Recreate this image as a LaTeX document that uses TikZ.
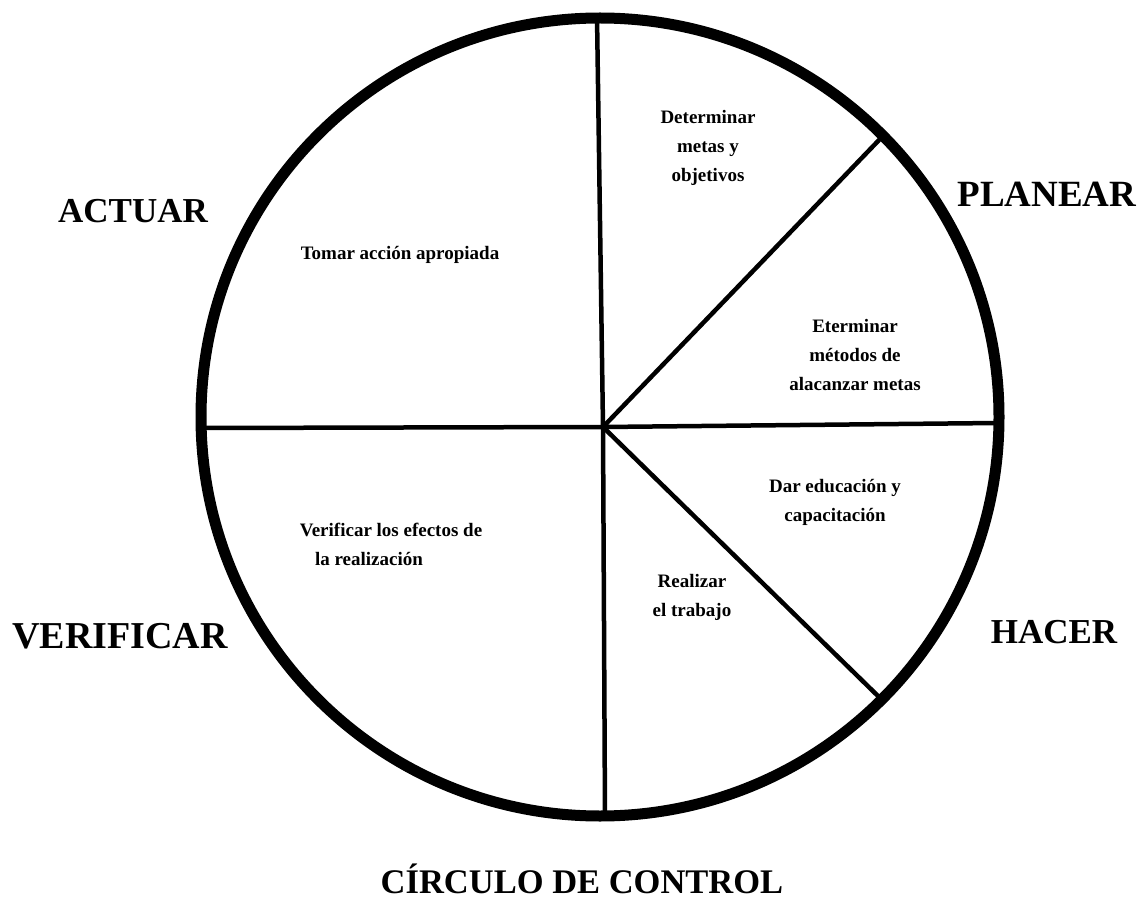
\documentclass[tikz,border=0pt]{standalone}
\usepackage{fontspec}
\setmainfont{Liberation Serif}
\begin{document}
\begin{tikzpicture}[x=1pt,y=-1pt,
  rim/.style={line width=11pt},
  spoke/.style={line width=4.5pt},
  phase/.style={font=\bfseries\fontsize{#1}{42}\selectfont, anchor=base, inner sep=0pt},
  phase/.default=35,
  task/.style={font=\bfseries\fontsize{19}{29}\selectfont, anchor=center, inner sep=0pt, align=center}]
  \useasboundingbox (0,0) rectangle (1143,909);

  % outer rim and hub of the wheel
  \coordinate (ctr) at (600,417);
  \coordinate (hub) at (603,427);
  \coordinate (rimN) at (597,16);
  \coordinate (rimS) at (605,818);
  \coordinate (rimW) at (203,428);
  \coordinate (rimE) at (997,423);
  \coordinate (rimNE) at (880,139);
  \coordinate (rimSE) at (879,697);

  % spokes dividing the wheel
  \draw[spoke] (hub) -- (rimN);
  \draw[spoke] (hub) -- (rimS);
  \draw[spoke] (hub) -- (rimW);
  \draw[spoke] (hub) -- (rimE);
  \draw[spoke] (hub) -- (rimNE);
  \draw[spoke] (hub) -- (rimSE);
  \draw[rim] (ctr) circle (399pt);

  % phase names around the wheel
  \node[phase=35] (actuar) at (133,223) {ACTUAR};
  \node[phase=37] (planear) at (1047,207) {PLANEAR};
  \node[phase=38] (verificar) at (120,648) {VERIFICAR};
  \node[phase=35] (hacer) at (1054,643) {HACER};
  \node[phase=34.5] (titulo) at (582,893) {CÍRCULO DE CONTROL};

  % tasks inside each sector
  \node[task] (metas) at (708,148) {Determinar\\metas y\\objetivos};
  \node[task] (tomar) at (400,255) {Tomar acción apropiada};
  \node[task] (metodos) at (855,355) {Eterminar\\métodos de\\alacanzar metas};
  \node[task] (educ) at (835,502) {Dar educación y\\capacitación};
  \node[task] (verif1) at (391,530) {Verificar los efectos de};
  \node[task] (verif2) at (369,559) {la realización};
  \node[task] (realizar) at (692,597) {Realizar\\el trabajo};
\end{tikzpicture}
\end{document}
